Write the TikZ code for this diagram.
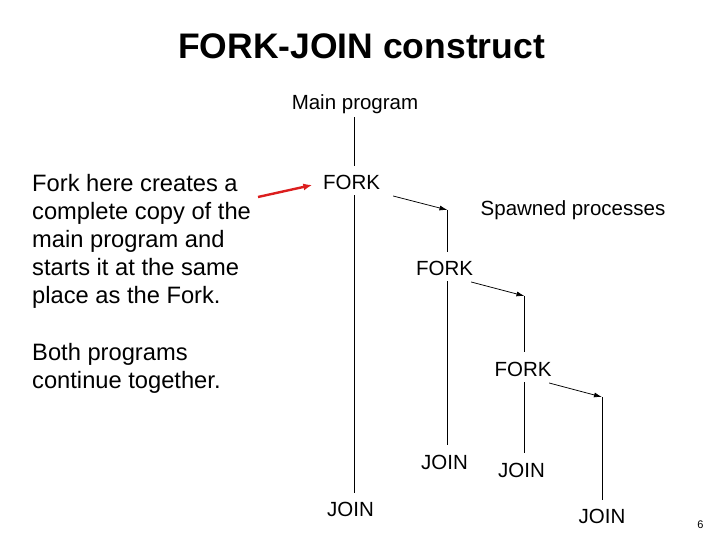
\documentclass[tikz,border=0pt]{standalone}
\usepackage{fontspec}
\setmainfont{Liberation Sans}
\usetikzlibrary{arrows.meta,positioning,calc}
\definecolor{fjred}{HTML}{DC1E1E}
\definecolor{fjink}{HTML}{000000}
\tikzset{
  titleText/.style={font=\fontsize{35.5}{42}\selectfont\bfseries, inner sep=0pt, anchor=base},
  noteText/.style={font=\fontsize{23.7}{27.8}\selectfont, align=left, inner sep=0pt, anchor=base west},
  procLabel/.style={font=\fontsize{20.5}{24}\selectfont, inner sep=0pt, anchor=base},
  procLine/.style={draw=fjink, line width=0.75pt},
  spawnArrow/.style={-{Latex[length=8pt,width=5pt]}, line width=0.75pt, draw=fjink},
  pointArrow/.style={-{Latex[length=9pt,width=7pt]}, line width=2.4pt, draw=fjred}
}
\begin{document}
\begin{tikzpicture}[x=1pt, y=-1pt]
  \useasboundingbox (0,0) rectangle (720,540);

  \node[titleText] (title) at (361.5,59) {FORK-JOIN construct};

  % base of a multi-line node is its last line
  \node[noteText] (note) at (32,303) {Fork here creates a\\ complete copy of the\\ main program and\\ starts it at the same\\ place as the Fork.};
  \node[noteText] (both) at (32,388) {Both programs\\ continue together.};

  % labels of the process tree
  \node[procLabel] (main) at (355,110) {Main program};
  \node[procLabel] (fk1) at (351.5,190) {FORK};
  \node[procLabel] (spawned) at (573,215) {Spawned processes};
  \node[procLabel] (fk2) at (444.5,275) {FORK};
  \node[procLabel] (fk3) at (523,376) {FORK};
  \node[procLabel] (jn1) at (350.5,516) {JOIN};
  \node[procLabel] (jn2) at (444.5,469) {JOIN};
  \node[procLabel] (jn3) at (521.5,477) {JOIN};
  \node[procLabel] (jn4) at (602,523) {JOIN};
  \node[font=\fontsize{11}{13}\selectfont, inner sep=0pt, anchor=base] (pagenum) at (700.5,528) {6};

  \coordinate (s0) at (354,0);
  \coordinate (s1) at (447.5,210);
  \coordinate (s2) at (524.5,296);
  \coordinate (s3) at (602,397);
  \coordinate (r0) at (258,197);

  \draw[procLine] ($(main.south -| s0)+(0,3)$) -- ($(fk1.north -| s0)+(0,-9.5)$);
  \draw[procLine] ($(fk1.south -| s0)+(0,5)$) -- ($(jn1.north -| s0)+(0,-8.6)$);

  \draw[spawnArrow] ($(fk1.base east)+(13,6)$) -- (s1);
  \draw[procLine] (s1) -- ($(fk2.north -| s1)+(0,-8.7)$);
  \draw[procLine] ($(fk2.south -| s1)+(0,6)$) -- ($(jn2.north -| s1)+(0,-9.7)$);

  \draw[spawnArrow] ($(fk2.base east)+(-2,7)$) -- (s2);
  \draw[procLine] (s2) -- ($(fk3.north -| s2)+(0,-9.7)$);
  \draw[procLine] ($(fk3.south -| s2)+(0,6)$) -- ($(jn3.north -| s2)+(0,-9.7)$);

  \draw[spawnArrow] ($(fk3.base east)+(-2.5,7)$) -- (s3);
  \draw[procLine] (s3) -- ($(jn4.north -| s3)+(0,-8.7)$);

  \draw[pointArrow] (r0) -- ($(fk1.base west)+(-10.5,-5)$);
\end{tikzpicture}
\end{document}
